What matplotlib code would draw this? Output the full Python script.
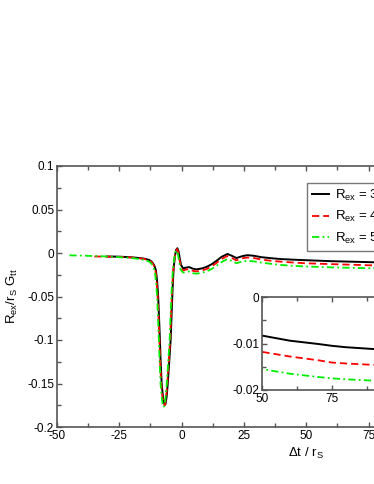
import matplotlib
matplotlib.use("Agg")
import matplotlib.pyplot as plt
from matplotlib.ticker import MultipleLocator, FixedLocator, FixedFormatter

plt.rcParams['font.family'] = ['Liberation Sans', 'DejaVu Sans']
plt.rcParams['mathtext.fontset'] = 'custom'
plt.rcParams['mathtext.rm'] = 'Liberation Sans'
plt.rcParams['mathtext.it'] = 'Liberation Sans'
plt.rcParams['axes.unicode_minus'] = False

# time axis and the three curves
t_black = [-30, -25, -20, -17, -15, -13, -12, -11, -10.3, -9.8, -9.4, -8.9, -8.4, -8.0, -7.5,
           -7.0, -6.5, -6.0, -5.6, -5.2, -4.8, -4.4, -4.0, -3.6, -3.2, -2.7, -2.2, -1.7,
           -1.2, -0.7, -0.2, 0.6, 1.5, 3.0, 4.5, 6.0, 8.0, 10, 12, 14, 16, 18.4, 20, 22,
           24.5, 26.5, 29, 32, 36, 40, 45, 50, 60, 70, 75, 80, 90, 100, 120, 150]
g_black = [-0.0040, -0.0042, -0.0050, -0.0058, -0.0065, -0.0080, -0.0100, -0.0140, -0.0200,
           -0.0330, -0.0500, -0.0850, -0.1250, -0.1500, -0.1650, -0.1730, -0.1740, -0.1650,
           -0.1520, -0.1350, -0.1180, -0.1000, -0.0700, -0.0400, -0.0180, -0.0040, 0.0035,
           0.0055, 0.0015, -0.0070, -0.0140, -0.0176, -0.0170, -0.0162, -0.0180, -0.0188,
           -0.0178, -0.0160, -0.0130, -0.0090, -0.0045, -0.0011, -0.0030, -0.0058, -0.0035,
           -0.0025, -0.0032, -0.0048, -0.0060, -0.0070, -0.0077, -0.0083, -0.0094, -0.0101,
           -0.0105, -0.0108, -0.0112, -0.0115, -0.0119, -0.0122]

t_red = [-35, -30, -25, -20, -17, -15, -13, -12, -11, -10.5, -10.0, -9.6, -9.1, -8.6, -8.2,
         -7.7, -7.2, -6.7, -6.2, -5.8, -5.4, -5.0, -4.6, -4.2, -3.8, -3.3, -2.8, -2.3,
         -1.8, -1.3, -0.8, -0.2, 0.6, 1.5, 3.0, 4.5, 6.0, 8.0, 10, 12, 14, 16, 18.4, 20, 22,
         24.5, 26.5, 29, 32, 36, 40, 45, 50, 60, 70, 75, 80, 90, 100, 120, 150]
g_red = [-0.0040, -0.0042, -0.0045, -0.0052, -0.0060, -0.0068, -0.0085, -0.0105, -0.0150,
         -0.0200, -0.0330, -0.0500, -0.0850, -0.1250, -0.1500, -0.1650, -0.1740, -0.1750,
         -0.1650, -0.1520, -0.1350, -0.1180, -0.1000, -0.0700, -0.0400, -0.0190, -0.0050,
         0.0025, 0.0045, 0.0005, -0.0085, -0.0170, -0.0200, -0.0192, -0.0185, -0.0205,
         -0.0212, -0.0200, -0.0185, -0.0155, -0.0115, -0.0070, -0.0034, -0.0055, -0.0085,
         -0.0060, -0.0052, -0.0058, -0.0075, -0.0090, -0.0100, -0.0110, -0.0118, -0.0128,
         -0.0136, -0.0141, -0.0143, -0.0146, -0.0149, -0.0153, -0.0157]

t_green = [-45, -40, -35, -30, -25, -20, -17, -15, -13, -12, -11.2, -10.7, -10.2, -9.8, -9.3,
           -8.8, -8.4, -7.9, -7.4, -6.9, -6.4, -6.0, -5.6, -5.2, -4.8, -4.4, -4.0, -3.5,
           -3.0, -2.5, -2.0, -1.5, -1.0, -0.4, 0.6, 1.5, 3.0, 4.5, 6.0, 8.0, 10, 12, 14, 16,
           18.4, 20, 22, 24.5, 26.5, 29, 32, 36, 40, 45, 50, 60, 70, 75, 80, 90, 100, 120, 150]
g_green = [-0.0027, -0.0030, -0.0035, -0.0040, -0.0048, -0.0058, -0.0070, -0.0080, -0.0100,
           -0.0125, -0.0170, -0.0220, -0.0350, -0.0520, -0.0870, -0.1270, -0.1520, -0.1680,
           -0.1770, -0.1760, -0.1650, -0.1520, -0.1350, -0.1180, -0.1000, -0.0700, -0.0420,
           -0.0200, -0.0070, 0.0010, 0.0030, -0.0005, -0.0095, -0.0190, -0.0225, -0.0218,
           -0.0212, -0.0232, -0.0238, -0.0228, -0.0212, -0.0185, -0.0148, -0.0105, -0.0069,
           -0.0090, -0.0118, -0.0095, -0.0090, -0.0096, -0.0110, -0.0125, -0.0138, -0.0148,
           -0.0155, -0.0165, -0.0172, -0.0175, -0.0177, -0.0180, -0.0183, -0.0187, -0.0190]

labels = ['R$_{\\mathrm{ex}}$ = 30 r$_{\\mathrm{S}}$',
          'R$_{\\mathrm{ex}}$ = 40 r$_{\\mathrm{S}}$',
          'R$_{\\mathrm{ex}}$ = 50 r$_{\\mathrm{S}}$']

main_yticks = [0.1, 0.05, 0, -0.05, -0.1, -0.15, -0.2]
main_ylabels = ['0.1', '0.05', '0', '-0.05', '-0.1', '-0.15', '-0.2']
inset_yticks = [0, -0.01, -0.02]
inset_ylabels = ['0', '-0.01', '-0.02']

W, H = 374, 484
fig = plt.figure(figsize=(W / 100, H / 100), dpi=100)
spine_col = '#555555'


def style(ax, fs):
    for s in ax.spines.values():
        s.set_color(spine_col)
        s.set_linewidth(1.2)
    ax.tick_params(which='both', direction='in', top=True, right=True,
                   color=spine_col, labelsize=fs, pad=2)
    ax.tick_params(which='major', length=3.8, width=1)
    ax.tick_params(which='minor', length=2.6, width=1)


def draw(ax):
    ax.plot(t_black, g_black, color='black', lw=1.4, label=labels[0])
    ax.plot(t_red, g_red, color='red', lw=1.3, dashes=(4, 2.2), label=labels[1])
    ax.plot(t_green, g_green, color='#00ee00', lw=1.3, dashes=(4, 1.8, 1, 1.8), label=labels[2])


# main axes: left 57px, top 166px, bottom 427px, 2.492 px per unit in x
x0, x1 = -50, 150
ax = fig.add_axes([57 / W, (H - 427) / H, (x1 - x0) * 2.492 / W, (427 - 166) / H])
draw(ax)
ax.set_xlim(x0, x1)
ax.set_ylim(-0.2, 0.1)
ax.xaxis.set_major_locator(MultipleLocator(25))
ax.xaxis.set_minor_locator(MultipleLocator(12.5))
ax.yaxis.set_major_locator(FixedLocator(main_yticks))
ax.yaxis.set_major_formatter(FixedFormatter(main_ylabels))
ax.yaxis.set_minor_locator(MultipleLocator(0.025))
style(ax, 8.5)
ax.set_xlabel('\u0394t / r$_{\\mathrm{S}}$', fontsize=9.5, labelpad=3)
ax.set_ylabel('R$_{\\mathrm{ex}}$/r$_{\\mathrm{S}}$ G$_{\\mathrm{tt}}$', fontsize=9.5, labelpad=5)

leg = ax.legend(loc='upper left', bbox_to_anchor=(307 / W, 1 - 183 / H),
                bbox_transform=fig.transFigure, borderaxespad=0, fontsize=9.5,
                fancybox=False, framealpha=1, edgecolor='#777777',
                handlelength=1.3, handletextpad=0.5, borderpad=0.35, labelspacing=0.5)
leg.get_frame().set_linewidth(1.0)

# inset: left 262px, top 297px, bottom 390px, 2.8 px per unit in x
i0, i1 = 50, 150
axi = fig.add_axes([262 / W, (H - 390) / H, (i1 - i0) * 2.8 / W, (390 - 297) / H])
draw(axi)
axi.set_xlim(i0, i1)
axi.set_ylim(-0.02, 0)
axi.xaxis.set_major_locator(MultipleLocator(25))
axi.xaxis.set_minor_locator(MultipleLocator(12.5))
axi.yaxis.set_major_locator(FixedLocator(inset_yticks))
axi.yaxis.set_major_formatter(FixedFormatter(inset_ylabels))
axi.yaxis.set_minor_locator(MultipleLocator(0.005))
style(axi, 8.5)

fig.savefig('out.png', dpi=100)
